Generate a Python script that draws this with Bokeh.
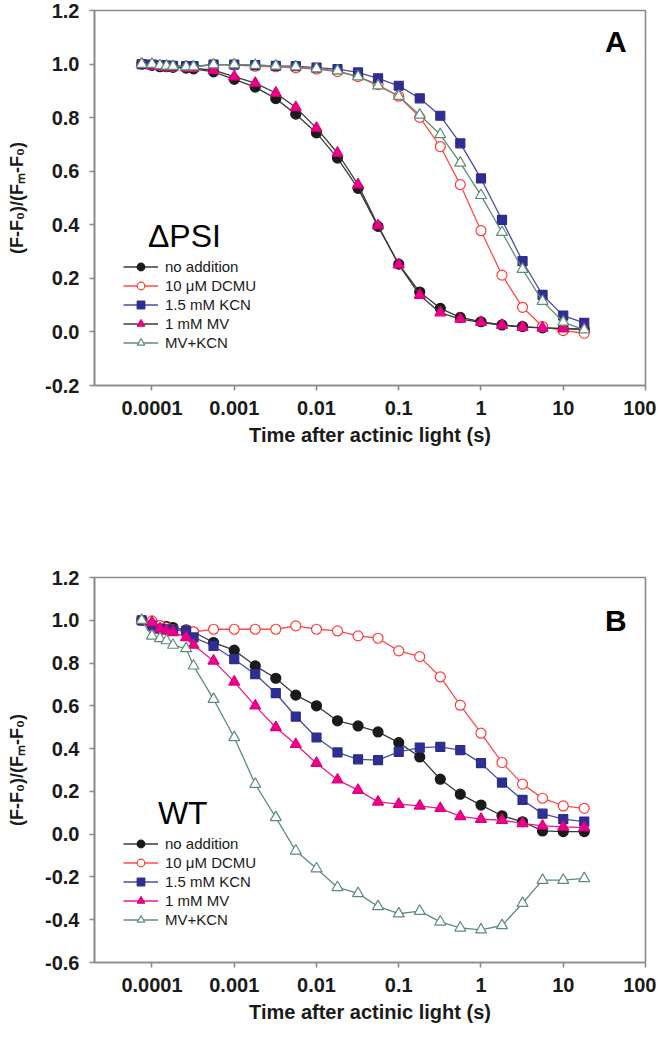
from bokeh.plotting import figure
from bokeh.layouts import column
from bokeh.models import (FixedTicker, PrintfTickFormatter, Label, Legend,
                          LegendItem, Range1d)
from bokeh.embed import file_html
from bokeh.resources import INLINE

# ---------------- data ----------------
time_s = [7.5e-5, 1.0e-4, 1.25e-4, 1.5e-4, 1.8e-4, 2.6e-4, 3.2e-4, 5.6e-4,
          1.0e-3, 1.8e-3, 3.2e-3, 5.6e-3, 0.01, 0.018, 0.032, 0.056, 0.1,
          0.18, 0.32, 0.56, 1.0, 1.8, 3.2, 5.6, 10.0, 18.0]

series_names = ["no addition", "10 \u03bcM DCMU", "1.5 mM KCN", "1 mM MV", "MV+KCN"]

# Panel A (delta PSI)
a_none = [1.0, 0.995, 0.99, 0.99, 0.988, 0.985, 0.982, 0.971, 0.943, 0.914,
          0.871, 0.813, 0.743, 0.649, 0.536, 0.394, 0.253, 0.149, 0.088,
          0.054, 0.038, 0.026, 0.02, 0.015, 0.012, 0.01]
a_dcmu = [1.0, 0.998, 0.995, 0.993, 0.992, 0.992, 0.99, 0.998, 0.996, 0.992,
          0.990, 0.986, 0.981, 0.972, 0.953, 0.923, 0.88, 0.801, 0.692, 0.55,
          0.378, 0.212, 0.092, 0.02, 0.005, -0.005]
a_kcn = [1.0, 0.998, 0.996, 0.994, 0.993, 0.992, 0.992, 0.998, 0.998, 0.996,
         0.993, 0.992, 0.987, 0.981, 0.969, 0.947, 0.919, 0.872, 0.807, 0.704,
         0.573, 0.418, 0.264, 0.138, 0.061, 0.034]
a_mv = [1.0, 0.995, 0.992, 0.99, 0.99, 0.987, 0.985, 0.977, 0.953, 0.929,
        0.892, 0.838, 0.761, 0.668, 0.55, 0.397, 0.251, 0.137, 0.072, 0.048,
        0.036, 0.025, 0.018, 0.015, 0.012, 0.01]
a_mvkcn = [1.0, 1.0, 0.995, 0.993, 0.992, 0.99, 0.99, 0.998, 0.998, 0.996,
           0.993, 0.99, 0.983, 0.975, 0.953, 0.919, 0.88, 0.81, 0.737, 0.631,
           0.51, 0.372, 0.234, 0.115, 0.037, 0.008]

# Panel B (WT)
b_none = [1.0, 0.99, 0.974, 0.971, 0.966, 0.955, 0.945, 0.896, 0.86, 0.787,
          0.729, 0.65, 0.6, 0.53, 0.506, 0.478, 0.428, 0.361, 0.257, 0.187,
          0.136, 0.086, 0.058, 0.015, 0.012, 0.012]
b_dcmu = [1.0, 0.997, 0.975, 0.965, 0.955, 0.95, 0.946, 0.958, 0.958, 0.958,
          0.958, 0.974, 0.958, 0.95, 0.927, 0.916, 0.857, 0.83, 0.735, 0.603,
          0.472, 0.335, 0.234, 0.168, 0.132, 0.121]
b_kcn = [1.0, 0.975, 0.961, 0.958, 0.955, 0.95, 0.92, 0.88, 0.818, 0.748,
         0.659, 0.55, 0.452, 0.382, 0.35, 0.346, 0.385, 0.405, 0.408, 0.393,
         0.332, 0.241, 0.16, 0.096, 0.07, 0.059]
b_mv = [1.0, 0.99, 0.961, 0.95, 0.943, 0.92, 0.884, 0.81, 0.712, 0.6, 0.499,
        0.42, 0.332, 0.254, 0.206, 0.151, 0.14, 0.132, 0.121, 0.083, 0.07,
        0.065, 0.05, 0.039, 0.034, 0.031]
b_mvkcn = [1.0, 0.927, 0.915, 0.905, 0.884, 0.868, 0.787, 0.631, 0.452, 0.234,
           0.078, -0.078, -0.161, -0.249, -0.277, -0.338, -0.372, -0.36, -0.41,
           -0.438, -0.447, -0.427, -0.323, -0.215, -0.215, -0.207]

x_ticks = [1e-4, 1e-3, 1e-2, 1e-1, 1, 10, 100]
a_yticks = [-0.2, 0.0, 0.2, 0.4, 0.6, 0.8, 1.0, 1.2]
b_yticks = [-0.6, -0.4, -0.2, 0.0, 0.2, 0.4, 0.6, 0.8, 1.0, 1.2]

# ---------------- styles ----------------
GRAY = "#8a8a8a"
TICK_FONT = "Liberation Sans"


def style_axes(p, yticks):
    p.xaxis.ticker = FixedTicker(ticks=x_ticks, minor_ticks=[])
    p.xaxis.formatter = PrintfTickFormatter(format="%g")
    p.yaxis.ticker = FixedTicker(ticks=yticks, minor_ticks=[])
    p.yaxis.formatter = PrintfTickFormatter(format="%.1f")
    for ax in (p.xaxis, p.yaxis):
        ax.axis_line_color = GRAY
        ax.axis_line_width = 1.6
        ax.major_tick_line_color = GRAY
        ax.major_tick_line_width = 1.6
        ax.major_tick_in = 0
        ax.major_tick_out = 5
        ax.minor_tick_line_color = None
        ax.major_label_text_font = TICK_FONT
        ax.major_label_text_font_style = "bold"
        ax.major_label_text_font_size = "20px"
        ax.major_label_text_color = "#1a1a1a"
        ax.major_label_standoff = 10
        ax.axis_label_text_font = TICK_FONT
        ax.axis_label_text_font_style = "bold"
        ax.axis_label_text_color = "#1a1a1a"
    p.xaxis.axis_label = "Time after actinic light (s)"
    p.xaxis.axis_label_text_font_size = "20px"
    p.xaxis.axis_label_standoff = 6
    p.yaxis.axis_label = "(F-F\u2080)/(F\u2098-F\u2080)"
    p.yaxis.axis_label_text_font_size = "18px"
    p.yaxis.axis_label_standoff = 15
    p.xgrid.visible = False
    p.ygrid.visible = False
    p.outline_line_color = GRAY
    p.outline_line_width = 1.6
    p.background_fill_color = "white"
    p.border_fill_color = "white"


def make_panel(height, top, bottom, ymin, ymax, yticks, data, mv_line,
               letter, letter_y, tag, tag_x, tag_y, legend_y):
    p = figure(width=656, height=height, x_axis_type="log",
               x_range=Range1d(2e-5, 100), y_range=Range1d(ymin, ymax),
               output_backend="svg", toolbar_location=None,
               min_border_left=94, min_border_right=11,
               min_border_top=top, min_border_bottom=bottom)
    style_axes(p, yticks)

    specs = [
        # (values, marker, size, line color, marker line, marker fill)
        (data[0], "circle", 10, "#3a3a3a", "#1a1a1a", "#1a1a1a"),
        (data[1], "circle", 10, "#ff4a4a", "#ff3b3b", "white"),
        (data[2], "square", 9, "#4b4ba6", "#2c2c8c", "#2e2e94"),
        (data[3], "triangle", 11, mv_line, "#e0007a", "#ec008c"),
        (data[4], "triangle", 11, "#5f8c76", "#5f8c76", "white"),
    ]
    items = []
    for name, (vals, mk, sz, lc, mlc, mfc) in zip(series_names, specs):
        lr = p.line(time_s, vals, line_color=lc, line_width=1.3)
        sr = p.scatter(time_s, vals, marker=mk, size=sz, line_color=mlc,
                       fill_color=mfc, line_width=1.2)
        items.append(LegendItem(label=name, renderers=[lr, sr]))

    legend = Legend(items=items, location=(29, legend_y),
                    border_line_color=None, background_fill_alpha=0,
                    padding=0, margin=0, glyph_width=35, glyph_height=19,
                    label_height=19, spacing=0, label_standoff=7,
                    label_text_font="Liberation Sans",
                    label_text_font_size="15px", label_text_color="#1a1a1a")
    p.add_layout(legend)

    p.add_layout(Label(x=43.7, y=letter_y, text=letter, text_align="center",
                       text_baseline="middle", text_font="Liberation Sans",
                       text_font_style="bold", text_font_size="30px",
                       text_color="black"))
    p.add_layout(Label(x=tag_x, y=tag_y, text=tag, text_align="left",
                       text_baseline="middle", text_font="Liberation Sans",
                       text_font_size="32px", text_color="black"))
    return p


pa = make_panel(540, 10, 155, -0.2, 1.2, a_yticks,
                [a_none, a_dcmu, a_kcn, a_mv, a_mvkcn], "#3a3a3a",
                "A", 1.085, "\u0394PSI", 8.93e-5, 0.36, 33)
pb = make_panel(487, 37, 65, -0.6, 1.2, b_yticks,
                [b_none, b_dcmu, b_kcn, b_mv, b_mvkcn], "#e8198c",
                "B", 1.0, "WT", 1.18e-4, 0.1, 33)

layout = column(pa, pb, spacing=0)
open("out.html", "w").write(file_html(layout, INLINE))
